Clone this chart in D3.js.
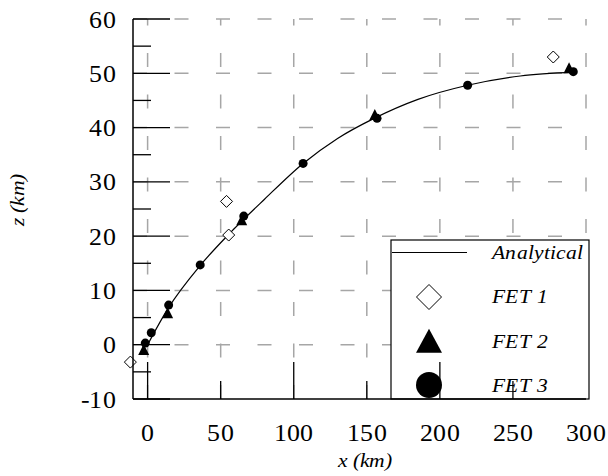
<!DOCTYPE html>
<html>
<head>
<meta charset="utf-8">
<script src="https://cdn.jsdelivr.net/npm/d3@7/dist/d3.min.js"></script>
<style>
  @font-face {
    font-family: "ChartSerif";
    font-style: normal;
    src: local("Liberation Serif"), local("LiberationSerif"), local("LiberationSerif-Regular"),
         local("Times New Roman"), local("TimesNewRomanPSMT"), local("Tinos"),
         local("DejaVu Serif"), local("DejaVuSerif"), local("Noto Serif"), local("NotoSerif-Regular");
  }
  @font-face {
    font-family: "ChartSerif";
    font-style: italic;
    src: local("Liberation Serif Italic"), local("LiberationSerif-Italic"),
         local("Times New Roman Italic"), local("TimesNewRomanPS-ItalicMT"), local("Tinos Italic"),
         local("DejaVu Serif Italic"), local("DejaVuSerif-Italic"), local("Noto Serif Italic"), local("NotoSerif-Italic");
  }
  html, body { margin: 0; padding: 0; background: #fff; }
  svg { display: block; }
</style>
</head>
<body>
<svg id="chart" width="608" height="476"></svg>
<script>
// Analytical trajectory (x, z in km)
const analyticalX = [0, 14, 36, 55, 80, 106, 130, 155, 185, 219, 255, 292];
const analyticalZ = [0, 6.7, 14.6, 20.2, 26.8, 33.3, 38.0, 41.7, 45.2, 47.8, 49.5, 50.2];

// FET 1 results
const fet1X = [-11.8, 55.5, 54, 277.6];
const fet1Z = [-3.2, 20.2, 26.4, 53.0];

// FET 2 results
const fet2X = [-2.7, 13.7, 64.4, 155.5, 288.4];
const fet2Z = [-1.0, 5.8, 22.9, 42.3, 50.9];

// FET 3 results
const fet3X = [-1.6, 2.5, 14.4, 36, 65.8, 106.4, 157, 219, 291.3];
const fet3Z = [0.3, 2.2, 7.3, 14.7, 23.7, 33.4, 41.7, 47.8, 50.3];

const xTicks = [0, 50, 100, 150, 200, 250, 300];
const yTicks = [-10, 0, 10, 20, 30, 40, 50, 60];
const yMinorTicks = [-5, 5, 15, 25, 35, 45, 55];
const legendLabels = ["Analytical", "FET 1", "FET 2", "FET 3"];

const FONT = "ChartSerif, 'Liberation Serif', 'Times New Roman', 'DejaVu Serif', serif";

function draw() {
const svg = d3.select("#chart");
svg.selectAll("*").remove();

// horizontal stretch so that "200" spans about 42px at 24.5px
const ctx = document.createElement("canvas").getContext("2d");
ctx.font = `24.5px ${FONT}`;
const SX = 42 / ctx.measureText("200").width;

const pLeft = 133, pRight = 586, pTop = 19, pBottom = 399;
const x = d3.scaleLinear().domain([-10, 300]).range([pLeft, pRight]);
const y = d3.scaleLinear().domain([-10, 60]).range([pBottom, pTop]);

function label(g, tx, ty, str, opts) {
  const t = g.append("text")
    .attr("transform", `translate(${tx},${ty}) scale(${SX},1)`)
    .attr("font-family", FONT)
    .attr("font-size", opts.size)
    .attr("fill", "#000")
    .attr("text-anchor", opts.anchor || "start")
    .text(str);
  if (opts.italic) t.attr("font-style", "italic");
  return t;
}

// dashed grid
const grid = svg.append("g")
  .attr("stroke", "#a6a6a6").attr("stroke-width", 1.5)
  .attr("stroke-dasharray", "14,27.5").attr("fill", "none");
yTicks.filter(v => v > -10).forEach(v => {
  grid.append("line").attr("x1", pLeft).attr("x2", pRight)
    .attr("y1", y(v)).attr("y2", y(v));
});
xTicks.forEach(v => {
  grid.append("line").attr("x1", x(v)).attr("x2", x(v))
    .attr("y1", pBottom).attr("y2", pTop);
});

// analytical curve
const pts = analyticalX.map((v, i) => [v, analyticalZ[i]]);
svg.append("path")
  .datum(pts)
  .attr("fill", "none").attr("stroke", "#000").attr("stroke-width", 1.2)
  .attr("d", d3.line().x(d => x(d[0])).y(d => y(d[1])).curve(d3.curveMonotoneX));

// marker shapes
function diamondPath(r) {
  return `M0,${-r}L${r},0L0,${r}L${-r},0Z`;
}
function trianglePath(w, h) {
  return `M0,${-h * 0.55}L${w / 2},${h * 0.45}L${-w / 2},${h * 0.45}Z`;
}

svg.append("g").selectAll("path")
  .data(fet1X.map((v, i) => [v, fet1Z[i]]))
  .join("path")
  .attr("transform", d => `translate(${x(d[0])},${y(d[1])})`)
  .attr("d", diamondPath(6))
  .attr("fill", "#fff").attr("stroke", "#000").attr("stroke-width", 1);

svg.append("g").selectAll("path")
  .data(fet2X.map((v, i) => [v, fet2Z[i]]))
  .join("path")
  .attr("transform", d => `translate(${x(d[0])},${y(d[1])})`)
  .attr("d", trianglePath(11, 11))
  .attr("fill", "#000");

svg.append("g").selectAll("circle")
  .data(fet3X.map((v, i) => [v, fet3Z[i]]))
  .join("circle")
  .attr("cx", d => x(d[0])).attr("cy", d => y(d[1])).attr("r", 4.5)
  .attr("fill", "#000");

// legend
const lg = svg.append("g");
lg.append("rect").attr("x", 391).attr("y", 240).attr("width", 198).attr("height", 159)
  .attr("fill", "#fff").attr("stroke", "#000").attr("stroke-width", 1.2);
lg.append("line").attr("x1", 392).attr("x2", 467).attr("y1", 252.5).attr("y2", 252.5)
  .attr("stroke", "#000").attr("stroke-width", 1.2);
lg.append("path").attr("transform", "translate(429,297)").attr("d", diamondPath(12.5))
  .attr("fill", "#fff").attr("stroke", "#000").attr("stroke-width", 1);
lg.append("path").attr("transform", "translate(429,342)").attr("d", trianglePath(26, 24))
  .attr("fill", "#000");
lg.append("circle").attr("cx", 429).attr("cy", 385).attr("r", 13).attr("fill", "#000");
const legendY = [259, 303, 348, 392];
legendLabels.forEach((s, i) => {
  label(lg, 492, legendY[i], s, { size: 20, italic: true });
});

// axes: left and bottom frame lines with inward ticks
const ax = svg.append("g").attr("stroke", "#000");
ax.append("line").attr("x1", pLeft).attr("x2", pLeft).attr("y1", pTop).attr("y2", pBottom)
  .attr("stroke-width", 1.5);
ax.append("line").attr("x1", pLeft).attr("x2", pRight).attr("y1", pBottom).attr("y2", pBottom)
  .attr("stroke-width", 1.5);
yTicks.forEach(v => {
  ax.append("line").attr("x1", pLeft).attr("x2", pLeft + 37)
    .attr("y1", y(v)).attr("y2", y(v)).attr("stroke-width", 1.3);
});
yMinorTicks.forEach(v => {
  ax.append("line").attr("x1", pLeft).attr("x2", pLeft + 18)
    .attr("y1", y(v)).attr("y2", y(v)).attr("stroke-width", 1.3);
});
xTicks.forEach(v => {
  if (v === 300) return;
  const len = v % 100 === 0 ? 37 : 18;
  ax.append("line").attr("x1", x(v)).attr("x2", x(v))
    .attr("y1", pBottom).attr("y2", pBottom - len).attr("stroke-width", 1.3);
});

// tick labels
const tl = svg.append("g");
yTicks.forEach(v => label(tl, 116, y(v) + 8.5, String(v), { size: 24.5, anchor: "end" }));
xTicks.forEach(v => label(tl, x(v), 441, String(v), { size: 24.5, anchor: "middle" }));

// axis titles
label(svg, 365, 467, "x (km)", { size: 20, italic: true, anchor: "middle" });
svg.append("text")
  .attr("transform", `translate(24,200) rotate(-90) scale(${SX},1)`)
  .attr("font-family", FONT)
  .attr("font-size", 20).attr("font-style", "italic").attr("text-anchor", "middle")
  .attr("fill", "#000")
  .text("z (km)");
}

draw();
if (document.fonts && document.fonts.load) {
  Promise.all([
    document.fonts.load("24.5px ChartSerif"),
    document.fonts.load("italic 20px ChartSerif")
  ]).then(draw, () => {});
}
</script>
</body>
</html>
